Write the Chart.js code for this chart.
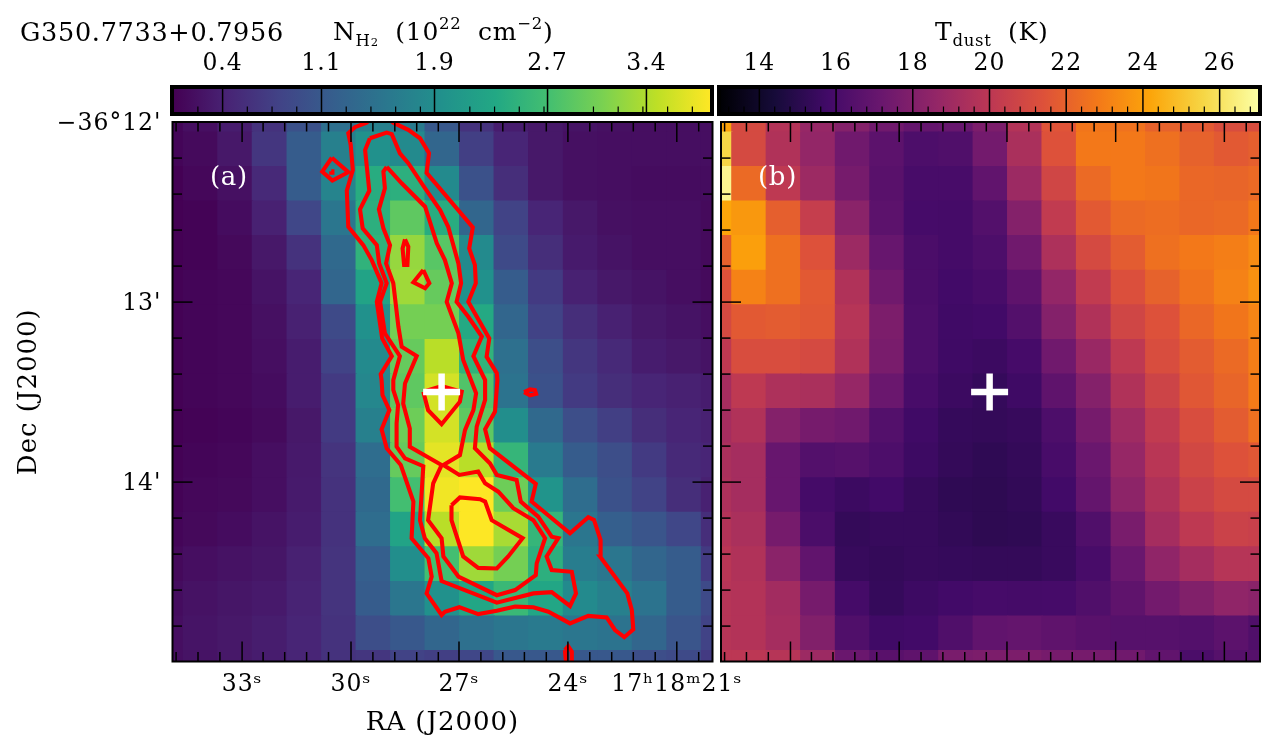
<!DOCTYPE html>
<html><head><meta charset="utf-8">
<script src="https://cdn.jsdelivr.net/npm/chart.js@4"></script>
<style>
html,body{margin:0;padding:0;background:#fff;width:1275px;height:753px;overflow:hidden}
canvas{position:absolute;display:block}
.t{position:absolute;font-family:"DejaVu Serif",serif;color:#000;white-space:nowrap;line-height:30px;letter-spacing:.7px}
.t sub,.t sup{font-size:.66em;line-height:0}
.t sup{position:relative;top:-.1em;vertical-align:super}
.t sub{position:relative;vertical-align:sub}
</style></head><body>
<canvas id="cbA" width="730" height="80" style="left:0;top:40px"></canvas>
<canvas id="cbB" width="560" height="80" style="left:715px;top:40px"></canvas>
<canvas id="mapB" width="550" height="653" style="left:716px;top:100px"></canvas>
<canvas id="mapA" width="800" height="653" style="left:0;top:100px"></canvas>
<div class="t" style="left:20px;top:17px;font-size:25.5px">G350.7733+0.7956</div>
<div class="t" style="left:333px;top:17px;font-size:25px;word-spacing:8px">N<sub>H<span style="font-size:.7em">2</span></sub> (10<sup>22</sup> cm<sup>−2</sup>)</div>
<div class="t" style="left:935px;top:17px;font-size:25px;word-spacing:8px">T<sub>dust</sub> (K)</div>
<div class="t" style="left:210px;top:161px;font-size:26px;color:#fff">(a)</div>
<div class="t" style="left:758px;top:161px;font-size:26px;color:#fff">(b)</div>
<script>
// ---------- data ----------
const raMajor=[-66.3,-30,6,42.3,78.6];
const raMinor=[-88.3,-81,-73.7,-59.3,-52.1,-44.8,-37.5,-22.7,-15.4,-8.1,-0.9,13.3,20.6,27.8,35.1,49.6,56.9,64.1,71.4,85.9];
const raLabels=['33ˢ','30ˢ','27ˢ','24ˢ','17ʰ18ᵐ21ˢ'];
const decMajor=[-90.3,-30.3,29.7];
const decMinor=[-78.3,-66.3,-54.3,-42.3,-18.3,-6.3,5.7,17.7,41.7,53.7,65.7,77.7];
const decLabels=["−36°12'","13'","14'"];
const cellX=[-91.6,-80.1,-68.6,-57.1,-45.5,-34,-22.5,-11,0.5,12,23.5,35,46.6,58.1,69.6,81.1,92.6];
const cellY=[-92.8,-81.2,-69.7,-58.2,-46.7,-35.1,-23.6,-12,-0.5,11,22.5,34.1,45.6,57.1,68.7,80.2,91.7];
const nh2=[
[.1,.2,.35,.6,1.0,1.45,1.7,1.6,1.1,.6,.35,.3,.25,.22,.2,.2,.2],
[.1,.15,.3,.65,1.15,1.7,1.95,1.85,1.3,.75,.45,.3,.22,.2,.2,.2,.2],
[.06,.12,.22,.5,1.15,1.75,2.4,2.45,1.85,1.0,.55,.3,.22,.2,.18,.18,.18],
[.06,.08,.18,.4,.85,1.55,2.45,2.9,2.4,1.3,.8,.45,.3,.22,.2,.2,.15],
[.06,.08,.14,.3,.6,1.35,2.5,3.25,2.85,1.85,.9,.55,.33,.25,.2,.2,.15],
[.07,.1,.12,.25,.45,1.3,2.25,3.3,2.95,1.95,1.15,.7,.4,.3,.25,.2,.15],
[.07,.1,.12,.22,.4,.9,1.95,3.05,3.05,2.35,1.3,.8,.55,.4,.3,.25,.2],
[.07,.1,.12,.2,.35,.8,1.85,2.95,3.45,2.5,1.45,.95,.65,.5,.35,.3,.25],
[.07,.1,.12,.18,.35,.7,1.8,2.9,3.6,2.8,1.5,1.0,.7,.55,.45,.4,.35],
[.06,.08,.1,.15,.3,.7,1.7,3.0,3.6,2.9,1.9,1.35,.95,.75,.55,.45,.4],
[.07,.1,.12,.2,.32,.62,1.4,2.95,3.7,3.45,2.55,1.6,1.15,.95,.7,.5,.45],
[.08,.12,.14,.2,.33,.6,1.35,2.7,3.78,3.85,3.0,2.0,1.4,1.0,.8,.55,.4],
[.1,.14,.18,.25,.35,.6,1.4,2.25,3.45,3.85,3.35,2.55,1.55,1.2,1.05,.85,.55],
[.14,.2,.24,.28,.4,.62,1.2,1.9,2.7,3.3,3.05,2.45,1.65,1.55,1.3,1.15,.7],
[.18,.24,.28,.32,.42,.62,1.15,1.55,1.95,2.3,2.6,2.3,1.85,1.7,1.5,1.15,.9],
[.2,.26,.3,.36,.45,.6,.95,1.1,1.3,1.45,1.55,1.6,1.55,1.5,1.3,1.05,.8],
[.2,.25,.3,.35,.45,.6,.65,.8,.75,.85,1.1,1.1,1.1,1.1,.95,.9,.7]];
const tdust=[
[24.1,21,19.7,18.7,18.1,17.4,17,17.1,17.8,19.7,21.5,22.7,22.6,22,21.7,21.2,21.2],
[25.6,21,19.6,18.6,17.4,16.7,16.2,16.3,17.5,19.4,21.4,22.8,22.8,22.5,22,21.7,21.9],
[26.7,22.3,20.1,18.9,17.6,16.6,16,16,16.9,18.9,20.8,22.3,22.8,22.7,22.2,22.1,22.3],
[24.2,23.8,21.9,20.4,18.3,16.7,15.95,15.9,16.4,18.1,20.2,21.7,22.3,22.4,22.2,22.3,22.8],
[22,24,22.5,21.4,18.9,17.1,16.1,15.9,16.2,17.4,19.5,21,21.8,22.5,22.8,23,23.4],
[21.4,23.1,22.5,21.7,19.6,17.4,16.1,15.8,16,16.8,18.6,20.2,21.3,22,22.6,23.1,23.6],
[21,21.7,21.8,21.6,19.8,17.8,16.2,15.75,15.8,16.4,18.1,19.6,20.8,21.4,22.2,22.7,23.2],
[20.1,21.2,21.2,21,19.6,17.7,16.2,15.7,15.6,15.95,17.4,18.8,20.1,21.2,21.8,22.3,23],
[19.2,20.1,19.5,19.4,18.7,17.2,16,15.6,15.4,15.7,16.8,18.1,19.6,20.7,21.6,22.1,22.9],
[19.2,19.6,18.1,17.6,17.4,16.4,15.75,15.4,15.35,15.45,16.2,17.6,19,20.2,21.2,21.8,22.5],
[19.4,19.2,17.1,16.4,16.5,16.2,15.65,15.35,15.2,15.35,16,17.2,18.7,19.9,20.9,21.4,21.6],
[19.5,19.2,17.1,15.9,15.6,15.8,15.45,15.2,15.15,15.3,15.8,17,18.4,19.6,20.6,21,21],
[19.7,19.4,17.6,16.1,15.35,15.45,15.45,15.3,15.15,15.2,15.5,16.3,17.7,19.2,20.1,20.6,20.5],
[19.9,19.6,18.3,16.9,15.45,15.35,15.45,15.4,15.35,15.35,15.5,16,17.2,18.5,19.2,19.8,19.8],
[19.8,19.7,19.1,17.6,15.9,15.4,15.65,15.8,15.95,15.9,15.95,16.3,16.8,17.5,18,18.5,18.3],
[19.8,19.7,19.2,18,16.3,15.75,15.8,16.3,16.9,17,16.8,16.6,16.5,16.5,16.4,16.7,16.3],
[20,20,19.8,18.9,17.2,16.6,16.8,17.7,17.8,17.8,17.6,17.6,17.4,16.9,16.1,16.5,16.5]];
const contourOuter=[[-23.1,-91.6],[-24.8,-90.1],[-28.7,-88.6],[-30.9,-86.6],[-30.1,-82.7],[-29.4,-74.3],[-31.4,-67.4],[-30.9,-55.4],[-25.9,-49.3],[-23.1,-44.3],[-19.8,-36.6],[-21.4,-30.4],[-19.6,-18.2],[-16.4,-12.3],[-20.1,-6.3],[-19.8,-4.3],[-19.5,.7],[-17.2,5.7],[-19.8,12.1],[-18.1,18.4],[-13.4,24],[-9.2,36.2],[-9.8,48.4],[-4.2,55.1],[-3.1,61.2],[-4.8,66.8],[.2,74],[1.3,72.9],[6.1,71.4],[12.4,73.7],[18.6,72.6],[24.7,71.2],[30.8,71.4],[35.8,72.9],[43,76.8],[49.1,74.3],[55.2,74.8],[58,79],[61.1,81.4],[64.1,78.8],[63.6,72.3],[62.1,66.8],[53,54.5],[53.2,49],[51,42.3],[49.1,41.4],[43,46.8],[30.2,36.2],[31.6,30.3],[16.3,18.4],[14.7,12.1],[18,6.2],[18.8,-4.3],[18.6,-6.6],[15.2,-12.1],[16.1,-18.2],[9.1,-30.4],[11.6,-36.6],[11.3,-42.7],[9.4,-48.2],[10.6,-55.2],[-4.8,-73.4],[-4,-79.9],[-7,-84.9],[-10.9,-87.7],[-15.9,-90.1],[-17.6,-91.6]];
const contourMiddle=[[-23.7,-84.9],[-25.3,-81],[-23.9,-67.4],[-27,-61.2],[-26.1,-54.9],[-21.4,-49.3],[-20.6,-43.2],[-18.1,-36.6],[-20.3,-30.4],[-18.7,-19.9],[-13.7,-12.3],[-15.9,-4.3],[-15.9,-1],[-14.3,4],[-14.8,10.1],[-14.8,17.9],[-12,21.8],[-5.9,24.4],[-7,42.4],[-5.4,48.4],[-1.5,53.4],[.2,62.7],[18.6,69.9],[30.8,66.8],[36.9,66.4],[43,71],[45,66.8],[43.6,59.6],[36.9,59],[35.2,54.5],[39.1,48.4],[36.9,47.9],[32.4,41.2],[26.6,36.2],[25.2,29],[18.6,27.3],[16.3,23.4],[11.3,18.4],[11.9,11.2],[14.7,2.3],[14.7,-4.3],[10.8,-12.3],[13.6,-18.8],[9.1,-25.4],[5.2,-30.4],[6.7,-36.6],[5.8,-43.2],[2.4,-55.4],[-.3,-61],[-5.3,-68.2],[-10.9,-76.6],[-13.7,-79.9],[-16.4,-86.3],[-18.1,-86.8],[-23.7,-84.9]];
const contourInner=[[-18.1,-75.4],[-19.2,-73.8],[-18.7,-68.2],[-20.7,-61.2],[-19.2,-54.9],[-17,-49.3],[-18.3,-43.2],[-15.9,-36.6],[-14.2,-22.1],[-13.1,-15.4],[-8.1,-12.3],[-12,-3.2],[-12.6,3.5],[-10.4,11.8],[-10.4,17.9],[.2,24],[-2.6,30.1],[-4.3,42.4],[.2,48.4],[.8,54.5],[5.8,61.2],[18.6,67.4],[24.7,65.7],[31.6,60.7],[31.9,56.8],[34.7,48.4],[30.8,42.4],[24.1,38.4],[19.1,32.9],[14.7,30.1],[12.4,26.2],[6.1,27.3],[.8,24],[6.3,20.7],[8,12.4],[10.8,5.7],[11.7,.1],[7.4,-11],[5.8,-19.9],[1.9,-30.4],[3.6,-36.6],[1.3,-44.3],[-1.4,-49.9],[-5.3,-62.1],[-13.1,-69.9],[-18.1,-75.4]];
const contourPeak=[[3.5,37.4],[6.3,34.8],[13,35.4],[14.7,36.2],[16.9,42.4],[27.2,48.4],[22.4,54.5],[18.6,58.5],[12.4,58.3],[7.4,54.5],[3.5,42.4],[3.5,37.4]];
const contourCross=[[-5.9,-.4],[.2,-2.3],[6.9,-.4],[6.3,2.9],[.2,10.4],[-4.3,5.7],[-5.9,-.4]];
const contourDiamond=[[-36.4,-78.4],[-30.9,-73.6],[-36.2,-70.8],[-39.6,-73.8],[-36.4,-78.4]];
const contourDot=[[-36.6,-73.9],[-36.2,-73.9],[-36.2,-73.4],[-36.6,-73.4],[-36.6,-73.9]];
const contourSliver=[[-12,-51.2],[-10.9,-48.8],[-11.2,-42.7],[-12.3,-42.7],[-12.8,-48.2],[-12,-51.2]];
const contourTriangle=[[-5.9,-41],[-3.9,-36.6],[-5.3,-34.9],[-9.2,-36.9],[-5.9,-41]];
const contourEast=[[27.7,-.3],[29.7,-1.2],[31.3,-1],[31.7,.3],[29.7,.8],[27.7,-.3]];
const contourSouth=[[41.3,85.7],[42.4,84.4],[43.6,86.2],[43.6,92.3],[41.9,92.3],[41.3,85.7]];
const contourList=[contourOuter,contourMiddle,contourInner,contourPeak,contourCross,contourDiamond,contourDot,contourSliver,contourTriangle,contourEast,contourSouth];
const sourcePos=[{x:.2,y:-.3}];
const nh2Ticks=[.4,1.1,1.9,2.7,3.4];
const nh2Minor=[.225,.575,.75,.925,1.275,1.45,1.625,1.8,2.15,2.325,2.5,2.675,3.025,3.2,3.375,3.55,3.725];
const tTicks=[14,16,18,20,22,24,26];
const tMinor=[13.2,13.6,14.4,14.8,15.2,15.6,16.4,16.8,17.2,17.6,18.4,18.8,19.2,19.6,20.4,20.8,21.2,21.6,22.4,22.8,23.2,23.6,24.4,24.8,25.2,25.6,26.4,26.8];
const viridisStops=['#440154','#482475','#414487','#355f8d','#2a788e','#21918c','#22a884','#44bf70','#7ad151','#bddf26','#fde725'];
const infernoStops=['#000004','#160b39','#420a68','#6a176e','#932667','#bc3754','#dd513a','#f37819','#fca50a','#f6d746','#fcffa4'];
const nh2Range=[.056,3.85], tRange=[13,27];

// ---------- helpers ----------
const FONT='"DejaVu Serif", serif';
const spacing={id:'spacing',beforeUpdate(chart){chart.ctx.letterSpacing='1px';},beforeDraw(chart){chart.ctx.letterSpacing='1px';}};
function hex(c){return [1,3,5].map(i=>parseInt(c.substr(i,2),16));}
function cmap(stops,f){f=Math.max(0,Math.min(1,f))*(stops.length-1);const i=Math.min(stops.length-2,Math.floor(f)),t=f-i,a=hex(stops[i]),b=hex(stops[i+1]);
 return 'rgb('+a.map((v,k)=>Math.round(v+(b[k]-v)*t)).join(',')+')';}
function cells(values,stops,range){const data=[],colors=[];
 values.forEach((row,r)=>row.forEach((v,c)=>{data.push({x:cellX[c],y:[cellY[r]-5.77,cellY[r]+5.77]});colors.push(cmap(stops,(v-range[0])/(range[1]-range[0])));}));
 return {type:'bar',data,backgroundColor:colors,borderWidth:0,inflateAmount:.7,categoryPercentage:1,barPercentage:1,order:3};}
function frameTicks(){return {id:'frameTicks',afterDatasetsDraw(chart){
 const {ctx,chartArea:a,scales:{x,y}}=chart;ctx.save();ctx.strokeStyle='#000';
 const seg=(x0,y0,x1,y1)=>{ctx.beginPath();ctx.moveTo(x0,y0);ctx.lineTo(x1,y1);ctx.stroke();};
 ctx.lineWidth=1.5;
 [[raMajor,20],[raMinor,9.5]].forEach(([t,l])=>t.forEach(v=>{const p=x.getPixelForValue(v);seg(p,a.top,p,a.top+l);seg(p,a.bottom,p,a.bottom-l);}));
 [[decMajor,20],[decMinor,9.5]].forEach(([t,l])=>t.forEach(v=>{const p=y.getPixelForValue(v);seg(a.left,p,a.left+l,p);seg(a.right,p,a.right-l,p);}));
 ctx.lineWidth=2;ctx.strokeRect(a.left,a.top,a.right-a.left,a.bottom-a.top);ctx.restore();}};}
function zeroPad(s){s.paddingLeft=s.paddingRight=s.paddingTop=s.paddingBottom=0;}
function mapChart(id,values,stops,range,labelled,withContours,padding){
 const ds=[cells(values,stops,range)];
 if(withContours) contourList.forEach(c=>ds.push({type:'scatter',showLine:true,data:c.map(p=>({x:p[0],y:p[1]})),borderColor:'#ff0000',borderWidth:4.1,borderJoinStyle:'miter',pointRadius:0,fill:false,order:2}));
 ds.push({type:'scatter',data:sourcePos,pointStyle:'cross',pointRadius:18.5,pointBorderWidth:6.5,borderColor:'#fff',backgroundColor:'#fff',pointBorderColor:'#fff',borderWidth:6.5,order:1});
 return new Chart(document.getElementById(id),{data:{datasets:ds},plugins:[frameTicks(),spacing],options:{responsive:false,animation:false,devicePixelRatio:1,layout:{padding,autoPadding:false},
  plugins:{legend:{display:false},tooltip:{enabled:false}},events:[],
  scales:{
   x:{type:'linear',offset:false,min:-89.5,max:90.5,display:labelled,position:'bottom',grid:{display:false,drawTicks:false,offset:false},border:{display:false},
     afterBuildTicks:s=>{s.ticks=raMajor.map(value=>({value}));},
     afterFit:s=>{if(labelled)s.height=91.5;zeroPad(s);},
     ticks:{autoSkip:false,maxRotation:0,minRotation:0,padding:9,color:'#000',font:{family:FONT,size:23.5},callback:(v,i)=>raLabels[i]},
     title:{display:labelled,text:'RA (J2000)',color:'#000',font:{family:FONT,size:26},padding:{top:0,bottom:14.4}}},
   y:{type:'linear',reverse:true,min:-90.33,max:89.5,display:labelled,position:'left',grid:{display:false,drawTicks:false},border:{display:false},
     afterBuildTicks:s=>{s.ticks=decMajor.map(value=>({value}));},
     afterFit:s=>{if(labelled)s.width=172.5;zeroPad(s);},
     ticks:{autoSkip:false,padding:11,labelOffset:1.5,color:'#000',font:{family:FONT,size:23.5},callback:(v,i)=>decLabels[i]},
     title:{display:labelled,text:'Dec (J2000)',color:'#000',font:{family:FONT,size:26},padding:{top:14,bottom:0}}}
  }}});}
function colorbar(id,stops,range,major,minor,fmt,padding){
 const cb={id:'cbFrame',afterDatasetsDraw(chart){const {ctx,chartArea:a,scales:{x}}=chart;ctx.save();ctx.strokeStyle='#000';
  ctx.lineWidth=1.5;major.forEach(v=>{const p=x.getPixelForValue(v);ctx.beginPath();ctx.moveTo(p,a.top);ctx.lineTo(p,a.bottom);ctx.stroke();});
  ctx.lineWidth=1.2;minor.forEach(v=>{const p=x.getPixelForValue(v);ctx.beginPath();ctx.moveTo(p,a.bottom);ctx.lineTo(p,a.bottom-5.5);ctx.stroke();});
  ctx.lineWidth=4;ctx.strokeRect(a.left-2,a.top-2,a.right-a.left+4,a.bottom-a.top+4);ctx.restore();}};
 return new Chart(document.getElementById(id),{type:'bar',data:{labels:[''],datasets:[{data:[range],borderWidth:0,categoryPercentage:1,barPercentage:1,inflateAmount:0,
   backgroundColor(c){const a=c.chart.chartArea;if(!a)return stops[0];const g=c.chart.ctx.createLinearGradient(a.left,0,a.right,0);stops.forEach((s,i)=>g.addColorStop(i/(stops.length-1),s));return g;}}]},
  plugins:[cb,spacing],options:{indexAxis:'y',responsive:false,animation:false,devicePixelRatio:1,layout:{padding},events:[],
  plugins:{legend:{display:false},tooltip:{enabled:false}},
  scales:{y:{display:false,grid:{display:false}},
   x:{type:'linear',position:'top',min:range[0],max:range[1],grid:{display:false,drawTicks:false},border:{display:false},
    afterBuildTicks:s=>{s.ticks=major.map(value=>({value}));},afterFit:s=>{s.height=49;zeroPad(s);},
    ticks:{autoSkip:false,maxRotation:0,minRotation:0,padding:11,color:'#000',font:{family:FONT,size:23.5},callback:v=>fmt(v)}}}}});}

mapChart('mapA',nh2,viridisStops,nh2Range,true,true,{left:0,top:22,right:87.5,bottom:0});
mapChart('mapB',tdust,infernoStops,tRange,false,false,{left:5,top:22,right:6,bottom:91.5});
colorbar('cbA',viridisStops,nh2Range,nh2Ticks,nh2Minor,v=>v.toFixed(1),{left:174,top:0,right:20,bottom:8});
colorbar('cbB',infernoStops,tRange,tTicks,tMinor,v=>String(v),{left:6,top:0,right:17,bottom:8});
</script></body></html>
